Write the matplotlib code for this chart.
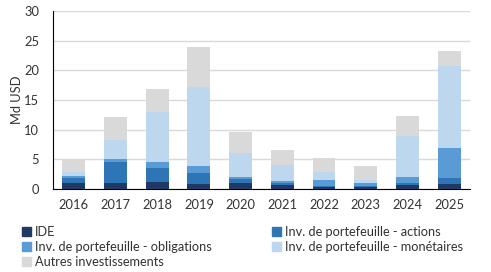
import matplotlib.pyplot as plt
from matplotlib.patches import Patch
import numpy as np

plt.rcParams['font.family'] = ['Lato', 'DejaVu Sans']

years = ['2016', '2017', '2018', '2019', '2020', '2021', '2022', '2023', '2024', '2025']
ide = [1.05, 1.05, 1.2, 0.85, 1.05, 0.75, 0.4, 0.35, 0.7, 0.85]
actions = [0.85, 3.45, 2.3, 1.85, 0.65, 0.2, 0.15, 0.15, 0.3, 1.0]
obligations = [0.35, 0.55, 1.0, 1.25, 0.35, 0.45, 0.95, 0.5, 1.0, 5.05]
monetaires = [0.6, 3.2, 8.45, 13.25, 4.05, 2.7, 1.35, 0.45, 6.9, 13.85]
autres = [2.15, 3.85, 3.85, 6.75, 3.5, 2.5, 2.35, 2.4, 3.4, 2.5]

series = [
    ('IDE', ide, '#1f3864'),
    ('Inv. de portefeuille - actions', actions, '#2e75b6'),
    ('Inv. de portefeuille - obligations', obligations, '#5b9bd5'),
    ('Inv. de portefeuille - monétaires', monetaires, '#bdd7ee'),
    ('Autres investissements', autres, '#d9d9d9'),
]

fig = plt.figure(figsize=(4.91, 2.72), dpi=100)
ax = fig.add_axes([0.108, 0.305, 0.849, 0.655])

x = np.arange(len(years))
bottom = np.zeros(len(years))
handles = {}
for name, vals, col in series:
    ax.bar(x, vals, 0.55, bottom=bottom, color=col, zorder=3)
    bottom += np.array(vals)
    handles[name] = Patch(color=col, label=name)

ax.set_xlim(-0.5, len(years) - 0.5)
ax.set_ylim(0, 30)
ax.set_yticks(range(0, 31, 5))
ax.set_xticks(x)
ax.set_xticklabels(years)
ax.yaxis.grid(True, color='#d9d9d9', linewidth=1, zorder=0)
ax.set_axisbelow(True)
for s in ['top', 'right']:
    ax.spines[s].set_visible(False)
ax.spines['left'].set_color('black')
ax.spines['bottom'].set_color('black')
ax.tick_params(axis='both', length=0, labelsize=9.3, colors='#333333')
ax.tick_params(axis='x', pad=7)
ax.tick_params(axis='y', pad=10)
ax.set_ylabel('Md USD', fontsize=9.3, color='#333333', labelpad=1)

order = ['IDE', 'Inv. de portefeuille - obligations', 'Autres investissements',
         'Inv. de portefeuille - actions', 'Inv. de portefeuille - monétaires']
leg = fig.legend([handles[n] for n in order], order, ncol=2, loc='upper left',
                 bbox_to_anchor=(0.045, 0.168), frameon=False, fontsize=9.2,
                 handlelength=0.7, handleheight=0.7, handletextpad=0.3,
                 columnspacing=4.75, labelspacing=0.22, borderpad=0, borderaxespad=0)
for t in leg.get_texts():
    t.set_color('#333333')

fig.savefig('out.png', dpi=100)
